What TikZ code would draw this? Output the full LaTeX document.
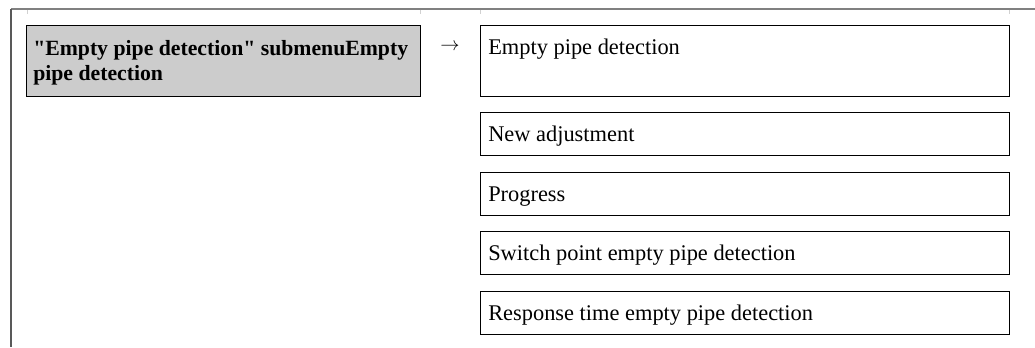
\documentclass[tikz,border=0pt]{standalone}
\usepackage{fontspec}
\setmainfont{Liberation Serif}[Ligatures=TeXOff]
\begin{document}
\begin{tikzpicture}[x=0.75pt,y=-0.75pt,
  framegray/.style={draw=black!50, line width=1.5pt},
  frameleft/.style={draw=black!65, line width=0.9pt},
  tick/.style={draw=black!18, line width=0.75pt},
  menubox/.style={draw=black, line width=0.8pt, fill=black!20, inner sep=0pt, anchor=north west, minimum width=295.5pt, minimum height=53.25pt},
  parbox/.style={draw=black, line width=0.8pt, inner sep=0pt, anchor=north west, minimum width=396.75pt},
  boldlbl/.style={inner sep=0pt, anchor=base west, font=\fontsize{16.3}{18.75}\selectfont\bfseries},
  lbl/.style={inner sep=0pt, anchor=base west, font=\fontsize{16.8}{18.75}\selectfont},
  arrowlbl/.style={inner sep=0pt, font=\fontsize{14}{16}\selectfont}
]
\useasboundingbox (0,0) rectangle (1035,347);
% frame
\coordinate (ftl) at (11,9);
\coordinate (ftr) at (1035,9);
\coordinate (fbl) at (11,347);
\draw[framegray] (ftl) -- (ftr);
\draw[frameleft] (ftl) -- (fbl);
\foreach \xx in {27,420,480,1009} \draw[tick] (\xx,9.8) -- (\xx,14);
% left menu box
\node[menubox] (menu) at (26,25) {};
\node[boldlbl] (menut) at (33,55) {\vtop{\hbox{"Empty pipe detection" submenuEmpty}\hbox{pipe detection}}};
% arrow
\node[arrowlbl] (arr) at (450,47) {$\rightarrow$};
% parameter boxes
\node[parbox, minimum height=53.25pt] (p1) at (480,25) {};
\node[lbl] (p1t) at (488,54) {Empty pipe detection};
\node[parbox, minimum height=32.25pt] (p2) at (480,112) {};
\node[lbl] (p2t) at (488,141) {New adjustment};
\node[parbox, minimum height=32.25pt] (p3) at (480,172) {};
\node[lbl] (p3t) at (488,201) {Progress};
\node[parbox, minimum height=32.25pt] (p4) at (480,231) {};
\node[lbl] (p4t) at (488,260) {Switch point empty pipe detection};
\node[parbox, minimum height=32.25pt] (p5) at (480,291) {};
\node[lbl] (p5t) at (488,320) {Response time empty pipe detection};
\end{tikzpicture}
\end{document}
